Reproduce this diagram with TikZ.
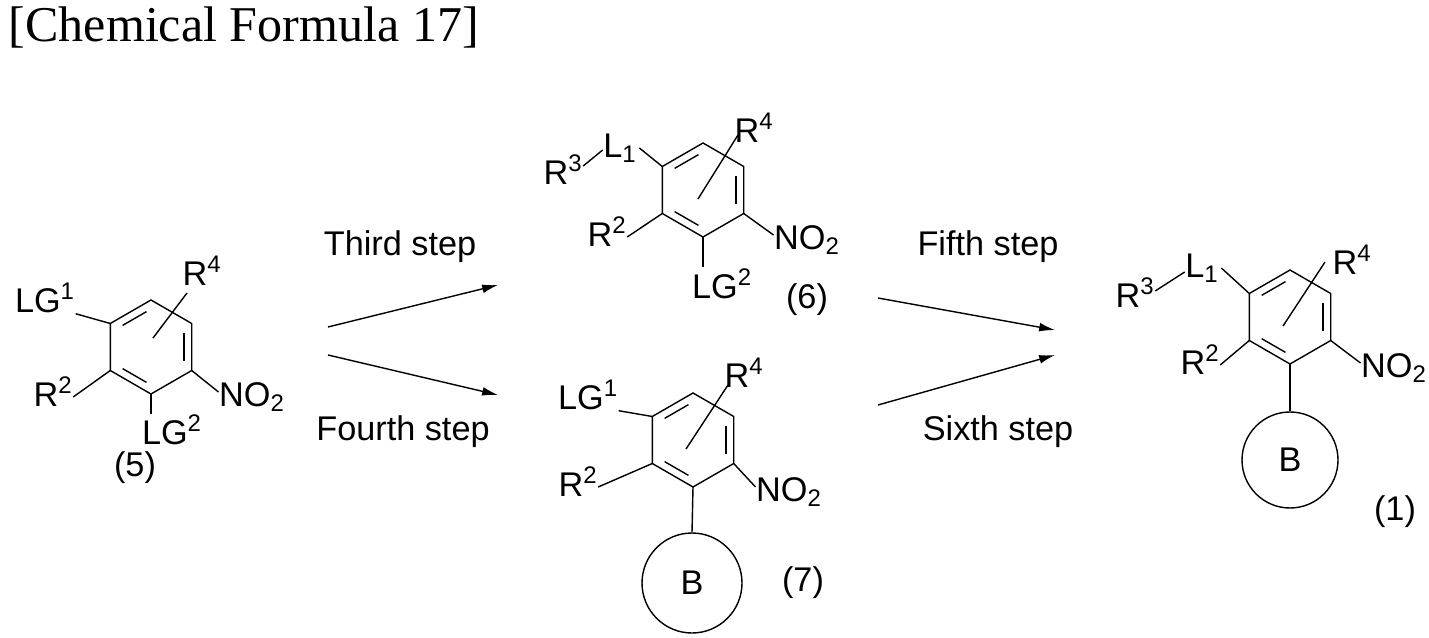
\documentclass[tikz,border=0pt]{standalone}
\usepackage{fontspec}
\setmainfont{Liberation Sans}
\newfontfamily\titlefont{Liberation Serif}
\usetikzlibrary{calc,arrows.meta}

% benzene ring around a named centre
\newcommand{\benzring}[1]{%
  \foreach \k/\a in {1/-90,2/-30,3/30,4/90,5/150,6/210}{\coordinate (#1-\k) at ($(#1)+(\a:47)$);}
  \draw (#1-1) -- (#1-2) -- (#1-3) -- (#1-4) -- (#1-5) -- (#1-6) -- cycle;
  \foreach \a/\b in {210/-90,-30/30,90/150}{\draw[shorten <=3pt,shorten >=3pt] ($(#1)+(\a:38)$) -- ($(#1)+(\b:38)$);}
}

\begin{document}
\begin{tikzpicture}[x=0.02cm,y=-0.02cm,line width=0.8pt,
lbl/.style={font=\fontsize{19.5}{22}\selectfont,inner sep=0pt},
rxn/.style={-{Latex[length=9pt,width=5pt]}}]
\useasboundingbox (0,0) rectangle (1429,638);

\node[anchor=west,font=\titlefont\fontsize{28.5}{30}\selectfont,inner sep=0pt] (title) at (8,27) {[Chemical Formula 17]};

%% compound (5)
\coordinate (c5) at (151,347);
\benzring{c5}
\node[lbl] (c5lg1) at (45,298) {LG\textsuperscript{1}};
\node[lbl] (c5r2) at (53,392) {R\textsuperscript{2}};
\node[lbl] (c5lg2) at (172,430) {LG\textsuperscript{2}};
\node[lbl] (c5no2) at (252,397) {NO\textsubscript{2}};
\node[lbl] (c5r4) at (202,271) {R\textsuperscript{4}};
\node[lbl] (c5num) at (135,468) {(5)};
\draw (c5-6) -- (c5lg1.south east);
\draw (c5-5) -- ($(c5r2.east)+(0,5)$);
\draw (c5-4) -- ($(c5-4)+(0,20)$);
\draw (c5-3) -- ($(c5no2.west)+(0,-5)$);
\draw ($(c5)+(2,-9)$) -- ($(c5)+(36,-54)$);

%% compound (6)
\coordinate (c6) at (703,190);
\benzring{c6}
\node[lbl] (c6l1) at (620,148) {L\textsubscript{1}};
\node[lbl] (c6r3) at (563,170) {R\textsuperscript{3}};
\node[lbl] (c6r2) at (607,232) {R\textsuperscript{2}};
\node[lbl] (c6lg2) at (722,284) {LG\textsuperscript{2}};
\node[lbl] (c6no2) at (807,240) {NO\textsubscript{2}};
\node[lbl] (c6r4) at (754,128) {R\textsuperscript{4}};
\node[lbl] (c6num) at (807,300) {(6)};
\draw (c6-6) -- ($(c6l1.east)+(2,0)$);
\draw ($(c6r3.east)+(0,-4)$) -- ($(c6l1.west)+(0,2)$);
\draw (c6-5) -- ($(c6r2.east)+(0,5)$);
\draw (c6-4) -- ($(c6-4)+(0,30)$);
\draw (c6-3) -- ($(c6no2.west)+(0,-5)$);
\draw ($(c6)+(-5,9)$) -- ($(c6)+(35,-55)$);

%% compound (7)
\coordinate (c7) at (693,440);
\benzring{c7}
\node[lbl] (c7lg1) at (588,395) {LG\textsuperscript{1}};
\node[lbl] (c7r2) at (578,482) {R\textsuperscript{2}};
\node[lbl] (c7no2) at (789,492) {NO\textsubscript{2}};
\node[lbl] (c7r4) at (744,373) {R\textsuperscript{4}};
\node[draw,circle,minimum size=100*0.02cm,lbl] (c7b) at (692,583) {B};
\node[lbl] (c7num) at (803,583) {(7)};
\draw (c7-6) -- (c7lg1.south east);
\draw (c7-5) -- ($(c7r2.east)+(0,5)$);
\draw (c7-4) -- (c7b.north);
\draw (c7-3) -- ($(c7no2.west)+(0,-5)$);
\draw ($(c7)+(-7,9)$) -- ($(c7)+(35,-55)$);

%% compound (1)
\coordinate (c1) at (1290,317);
\benzring{c1}
\node[lbl] (c1l1) at (1202,268) {L\textsubscript{1}};
\node[lbl] (c1r3) at (1135,293) {R\textsuperscript{3}};
\node[lbl] (c1r2) at (1200,360) {R\textsuperscript{2}};
\node[lbl] (c1no2) at (1394,368) {NO\textsubscript{2}};
\node[lbl] (c1r4) at (1352,260) {R\textsuperscript{4}};
\node[draw,circle,minimum size=96*0.02cm,lbl] (c1b) at (1290,460) {B};
\node[lbl] (c1num) at (1395,512) {(1)};
\draw (c1-6) -- ($(c1l1.east)+(2,0)$);
\draw ($(c1r3.east)+(0,-2)$) -- ($(c1l1.west)+(0,4)$);
\draw (c1-5) -- ($(c1r2.east)+(0,5)$);
\draw (c1-4) -- (c1b.north);
\draw (c1-3) -- ($(c1no2.west)+(0,-5)$);
\draw ($(c1)+(-7,9)$) -- ($(c1)+(35,-55)$);

%% reaction arrows
\coordinate (a3s) at (328,327); \coordinate (a3e) at (498,285);
\coordinate (a4s) at (328,355); \coordinate (a4e) at (498,395);
\coordinate (a5s) at (878,298); \coordinate (a5e) at (1055,330);
\coordinate (a6s) at (878,405); \coordinate (a6e) at (1055,355);
\draw[rxn] (a3s) -- (a3e);
\draw[rxn] (a4s) -- (a4e);
\draw[rxn] (a5s) -- (a5e);
\draw[rxn] (a6s) -- (a6e);
\node[lbl] (third) at (400,247) {Third step};
\node[lbl] (fourth) at (403,432) {Fourth step};
\node[lbl] (fifth) at (988,247) {Fifth step};
\node[lbl] (sixth) at (998,432) {Sixth step};
\end{tikzpicture}
\end{document}
